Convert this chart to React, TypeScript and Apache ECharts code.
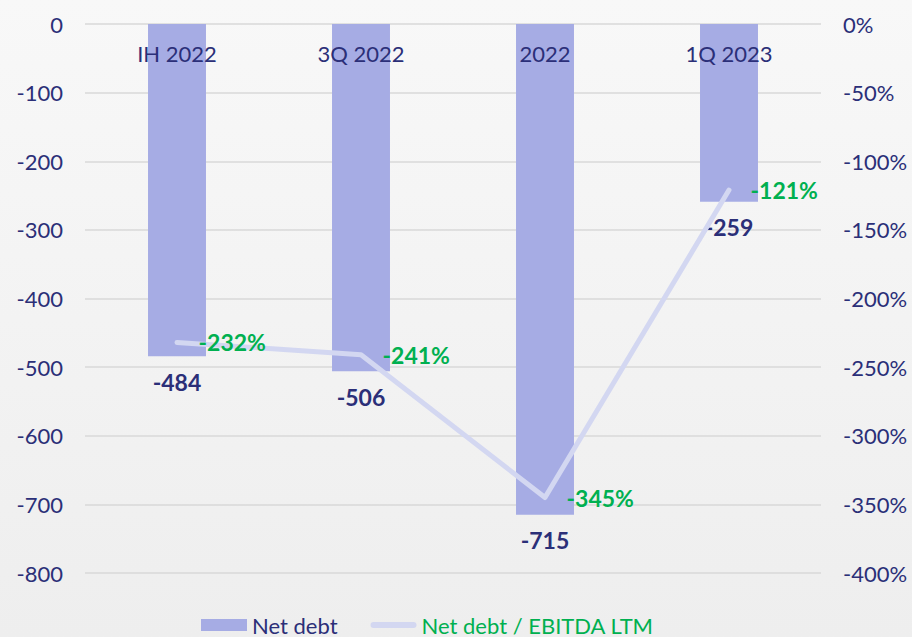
import React, { useEffect, useRef } from "react";
import * as echarts from "echarts";

const categories = ["IH 2022", "3Q 2022", "2022", "1Q 2023"];
const netDebt = [-484, -506, -715, -259];
const ratio = [-232, -241, -345, -121];

const NAVY = "#2b2f78";
const GREEN = "#00b050";
const BAR = "#a6ace4";
const LINE = "#d3d7f1";
const FONT = "Lato";

export default function App() {
  const ref = useRef<HTMLDivElement>(null);
  useEffect(() => {
    const chart = echarts.init(ref.current!, null, { renderer: "svg" });
    chart.setOption({
      animation: false,
      backgroundColor: {
        type: "linear", x: 0, y: 0, x2: 0, y2: 1,
        colorStops: [{ offset: 0, color: "#f8f8f8" }, { offset: 1, color: "#eeeeee" }],
      },
      grid: { left: 85, right: 91, top: 24, bottom: 64 },
      legend: {
        top: 609,
        left: 196,
        itemWidth: 46,
        itemHeight: 12,
        itemGap: 33,
        textStyle: { fontFamily: FONT, fontSize: 22 },
        data: [
          { name: "Net debt", icon: "rect", textStyle: { color: NAVY } },
          {
            name: "Net debt / EBITDA LTM",
            icon: "path://M3,0 H43 A3,3 0 0 1 43,6 H3 A3,3 0 0 1 3,0 Z",
            textStyle: { color: GREEN },
          },
        ],
      },
      xAxis: {
        type: "category",
        data: categories,
        position: "top",
        axisLine: { show: false },
        axisTick: { show: false },
        axisLabel: { inside: true, margin: 18, color: NAVY, fontFamily: FONT, fontSize: 22 },
        z: 10,
      },
      yAxis: [
        {
          type: "value", min: -800, max: 0, interval: 100,
          axisLabel: { color: NAVY, fontFamily: FONT, fontSize: 22, margin: 22 },
          splitLine: { lineStyle: { color: "#d9d9d9", width: 1.5 } },
          axisLine: { show: false }, axisTick: { show: false },
        },
        {
          type: "value", min: -400, max: 0, interval: 50,
          axisLabel: { color: NAVY, fontFamily: FONT, fontSize: 22, margin: 22, formatter: "{value}%" },
          splitLine: { show: false },
          axisLine: { show: false }, axisTick: { show: false },
        },
      ],
      series: [
        {
          name: "Net debt",
          type: "bar",
          data: netDebt,
          barWidth: "31.5%",
          itemStyle: { color: BAR },
          label: {
            show: true, position: "bottom", distance: 14,
            color: NAVY, fontFamily: FONT, fontWeight: "bold", fontSize: 23,
          },
        },
        {
          name: "Net debt / EBITDA LTM",
          type: "line",
          yAxisIndex: 1,
          data: ratio,
          symbol: "circle",
          symbolSize: 1,
          itemStyle: { color: LINE },
          lineStyle: { color: LINE, width: 5, cap: "round", join: "round" },
          label: {
            show: true, position: "right", distance: 21,
            formatter: "{c}%",
            color: GREEN, fontFamily: FONT, fontWeight: "bold", fontSize: 23,
          },
          z: 5,
        },
      ],
    });
    return () => chart.dispose();
  }, []);
  return <div ref={ref} style={{ width: 912, height: 637, position: "absolute", left: 0, top: 0 }} />;
}
